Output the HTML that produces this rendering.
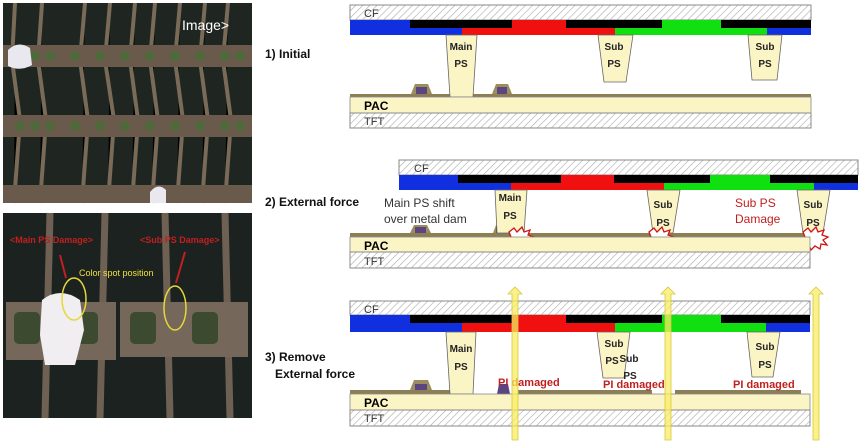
<!DOCTYPE html>
<html><head><meta charset="utf-8"><style>
html,body{margin:0;padding:0;background:#fff;}
svg{display:block;font-family:"Liberation Sans",sans-serif;}
</style></head><body>
<svg width="865" height="442" viewBox="0 0 865 442" xmlns="http://www.w3.org/2000/svg">
<defs>
<pattern id="h" width="5" height="5" patternUnits="userSpaceOnUse" patternTransform="rotate(45)">
<rect width="5" height="5" fill="#fff"/><line x1="0" y1="0" x2="0" y2="5" stroke="#aaa" stroke-width="1.2"/></pattern>
</defs>
<!-- photo 1 -->
<rect x="3" y="3" width="249" height="200" fill="#1f2622"/>
<g stroke="#7a6a58" stroke-width="4">
<path d="M15 3 L12 60 L20 120 L14 203"/><path d="M42 3 L38 60 L46 120 L40 203"/><path d="M85 3 L80 60 L88 120 L82 203"/><path d="M110 3 L105 60 L114 120 L108 203"/><path d="M135 3 L130 60 L138 120 L132 203"/><path d="M155 3 L150 60 L158 120 L152 203"/><path d="M180 3 L175 60 L183 120 L177 203"/><path d="M205 3 L200 60 L208 120 L202 203"/><path d="M228 3 L223 60 L231 120 L225 203"/>
</g>
<g fill="#6a5a4c"><rect x="3" y="45" width="249" height="22"/><rect x="3" y="115" width="249" height="22"/><rect x="3" y="185" width="249" height="18"/></g>
<g fill="#4f6a3a">
<circle cx="20" cy="56" r="5"/><circle cx="35" cy="56" r="5"/><circle cx="50" cy="56" r="5"/><circle cx="75" cy="56" r="5"/><circle cx="100" cy="56" r="5"/><circle cx="125" cy="56" r="5"/><circle cx="150" cy="56" r="5"/><circle cx="175" cy="56" r="5"/><circle cx="200" cy="56" r="5"/><circle cx="225" cy="56" r="5"/><circle cx="240" cy="56" r="5"/>
<circle cx="20" cy="126" r="5"/><circle cx="35" cy="126" r="5"/><circle cx="50" cy="126" r="5"/><circle cx="75" cy="126" r="5"/><circle cx="100" cy="126" r="5"/><circle cx="125" cy="126" r="5"/><circle cx="150" cy="126" r="5"/><circle cx="175" cy="126" r="5"/><circle cx="200" cy="126" r="5"/><circle cx="225" cy="126" r="5"/><circle cx="240" cy="126" r="5"/>
</g>
<path d="M8 50 Q18 40 30 48 L32 65 Q20 72 8 66Z" fill="#e8e8ee"/><path d="M150 192 Q158 182 166 190 L166 203 L150 203Z" fill="#e8e8ee"/>
<text x="182" y="30" fill="#fff" font-size="14">Image&gt;</text>
<!-- photo 2 -->
<rect x="3" y="213" width="249" height="205" fill="#1c221f"/>
<g stroke="#6e6052" stroke-width="7"><line x1="50" y1="213" x2="45" y2="418"/><line x1="105" y1="213" x2="100" y2="418"/><line x1="165" y1="213" x2="170" y2="418"/><line x1="225" y1="213" x2="230" y2="418"/></g>
<rect x="6" y="302" width="110" height="58" fill="#75675a"/><rect x="120" y="302" width="128" height="55" fill="#75675a"/>
<g fill="#3c4a30"><rect x="14" y="312" width="26" height="32" rx="5"/><rect x="72" y="312" width="26" height="32" rx="5"/><rect x="130" y="312" width="26" height="32" rx="5"/><rect x="192" y="312" width="26" height="32" rx="5"/></g>
<path d="M42 300 Q60 286 80 300 L84 330 L75 365 L45 365 L40 335 Z" fill="#f0eef0"/>
<ellipse cx="74" cy="299" rx="12" ry="21" fill="none" stroke="#e5d83a" stroke-width="1.5"/>
<ellipse cx="175" cy="308" rx="11" ry="22" fill="none" stroke="#e5d83a" stroke-width="1.5"/>
<text x="79" y="276" fill="#f0e040" font-size="9">Color spot position</text>
<text x="10" y="243" fill="#c02020" font-size="9" font-weight="bold">&lt;Main PS Damage&gt;</text>
<text x="140" y="243" fill="#c02020" font-size="9" font-weight="bold">&lt;Sub PS Damage&gt;</text>
<g stroke="#c02020" stroke-width="2"><line x1="60" y1="255" x2="66" y2="278"/><line x1="185" y1="252" x2="176" y2="283"/></g>
<!-- labels -->
<g font-weight="bold" font-size="12" fill="#111">
<text x="265" y="58">1) Initial</text>
<text x="265" y="206">2) External force</text>
<text x="265" y="361">3) Remove</text>
<text x="275" y="378">External force</text>
</g>

<!-- Diagram 1 -->
<rect x="350" y="5" width="461" height="15" fill="url(#h)" stroke="#888"/>
<text x="364" y="17" font-size="11" fill="#333">CF</text>
<rect x="350" y="20" width="60" height="8" fill="#1030e0"/><rect x="410" y="20" width="102" height="8" fill="#000"/><rect x="512" y="20" width="54" height="8" fill="#f01010"/><rect x="566" y="20" width="96" height="8" fill="#000"/><rect x="662" y="20" width="59" height="8" fill="#10e010"/><rect x="721" y="20" width="90" height="8" fill="#000"/>
<rect x="350" y="28" width="112" height="7" fill="#1030e0"/><rect x="462" y="28" width="153" height="7" fill="#f01010"/><rect x="615" y="28" width="152" height="7" fill="#10e010"/><rect x="767" y="28" width="44" height="7" fill="#1030e0"/>
<rect x="350" y="94" width="461" height="3" fill="#8d7f55"/>
<path d="M411 94 L415 84 L428 84 L432 94Z" fill="#9c8d5c"/><rect x="416" y="87" width="11" height="7" fill="#5a4580"/>
<path d="M492 94 L496 84 L508 84 L512 94Z" fill="#9c8d5c"/><rect x="497" y="87" width="10" height="7" fill="#5a4580"/>
<g fill="#fbf5c6" stroke="#666" stroke-width="0.8">
<path d="M446 35 L477 35 L473 97 L450 97Z"/><path d="M598 35 L633 35 L626 82 L604 82Z"/><path d="M748 35 L782 35 L777 80 L752 80Z"/>
</g>
<g font-size="10" font-weight="bold" fill="#222" text-anchor="middle"><text x="461" y="50">Main</text><text x="461" y="67">PS</text><text x="614" y="50">Sub</text><text x="614" y="67">PS</text><text x="765" y="50">Sub</text><text x="765" y="67">PS</text></g>
<rect x="350" y="97" width="461" height="16" fill="#fbf5c6" stroke="#888" stroke-width="0.8"/>
<text x="364" y="110" font-size="12" font-weight="bold">PAC</text>
<rect x="350" y="113" width="461" height="15" fill="url(#h)" stroke="#888"/>
<text x="364" y="125" font-size="11" fill="#333">TFT</text>

<!-- Diagram 2 -->
<rect x="399" y="160" width="459" height="15" fill="url(#h)" stroke="#888"/>
<text x="414" y="172" font-size="11" fill="#333">CF</text>
<rect x="399" y="175" width="59" height="8" fill="#1030e0"/><rect x="458" y="175" width="103" height="8" fill="#000"/><rect x="561" y="175" width="53" height="8" fill="#f01010"/><rect x="614" y="175" width="96" height="8" fill="#000"/><rect x="710" y="175" width="60" height="8" fill="#10e010"/><rect x="770" y="175" width="88" height="8" fill="#000"/>
<rect x="399" y="183" width="112" height="7" fill="#1030e0"/><rect x="511" y="183" width="153" height="7" fill="#f01010"/><rect x="664" y="183" width="150" height="7" fill="#10e010"/><rect x="814" y="183" width="44" height="7" fill="#1030e0"/>
<rect x="350" y="233" width="460" height="4" fill="#8d7f55"/>
<path d="M410 233 L414 225 L427 225 L431 233Z" fill="#9c8d5c"/><rect x="415" y="227" width="11" height="6" fill="#5a4580"/>
<path d="M493 233 L496 225 L503 225 L506 233Z" fill="#9c8d5c"/><rect x="496" y="227" width="9" height="6" fill="#5a4580"/>
<g fill="#fbf5c6" stroke="#666" stroke-width="0.8">
<path d="M495 190 L527 190 L524 233 L497 233Z"/><path d="M647 190 L680 190 L673 233 L653 233Z"/><path d="M797 190 L830 190 L823 233 L803 233Z"/>
</g>
<g font-size="10" font-weight="bold" fill="#222" text-anchor="middle"><text x="510" y="201">Main</text><text x="510" y="219">PS</text><text x="663" y="208">Sub</text><text x="663" y="226">PS</text><text x="813" y="208">Sub</text><text x="813" y="226">PS</text></g>
<g fill="#fff" stroke="#d01010" stroke-width="1.3">
<path d="M509 232 l5 -4 l3 4 l5 -5 l2 5 l6 -2 l-2 5 l6 2 l-5 3 l4 5 l-6 -1 l-1 5 l-5 -3 l-4 4 l-2 -5 l-6 2 l2 -5 l-5 -3 l5 -2 z"/>
<path d="M649 232 l5 -4 l3 4 l5 -5 l2 5 l6 -2 l-2 5 l6 2 l-5 3 l4 5 l-6 -1 l-1 5 l-5 -3 l-4 4 l-2 -5 l-6 2 l2 -5 l-5 -3 l5 -2 z"/>
<path d="M803 232 l5 -4 l3 4 l5 -5 l2 5 l6 -2 l-2 5 l6 2 l-5 3 l4 5 l-6 -1 l-1 5 l-5 -3 l-4 4 l-2 -5 l-6 2 l2 -5 l-5 -3 l5 -2 z"/>
</g>
<rect x="350" y="237" width="460" height="15" fill="#fbf5c6" stroke="#888" stroke-width="0.8"/>
<text x="364" y="250" font-size="12" font-weight="bold">PAC</text>
<rect x="350" y="252" width="460" height="16" fill="url(#h)" stroke="#888"/>
<text x="364" y="265" font-size="11" fill="#333">TFT</text>
<text x="384" y="207" font-size="12" fill="#333">Main PS shift</text>
<text x="384" y="223" font-size="12" fill="#333">over metal dam</text>
<text x="735" y="207" font-size="12" fill="#c02020">Sub PS</text>
<text x="735" y="223" font-size="12" fill="#c02020">Damage</text>

<!-- Diagram 3 -->
<rect x="350" y="301" width="460" height="14" fill="url(#h)" stroke="#888"/>
<text x="364" y="313" font-size="11" fill="#333">CF</text>
<rect x="350" y="315" width="60" height="8" fill="#1030e0"/><rect x="410" y="315" width="102" height="8" fill="#000"/><rect x="512" y="315" width="54" height="8" fill="#f01010"/><rect x="566" y="315" width="96" height="8" fill="#000"/><rect x="662" y="315" width="59" height="8" fill="#10e010"/><rect x="721" y="315" width="89" height="8" fill="#000"/>
<rect x="350" y="323" width="112" height="9" fill="#1030e0"/><rect x="462" y="323" width="153" height="9" fill="#f01010"/><rect x="615" y="323" width="151" height="9" fill="#10e010"/><rect x="766" y="323" width="44" height="9" fill="#1030e0"/>
<rect x="350" y="390" width="100" height="4" fill="#8d7f55"/><rect x="518" y="390" width="134" height="4" fill="#8d7f55"/><rect x="675" y="390" width="126" height="4" fill="#8d7f55"/>
<path d="M410 390 L414 380 L428 380 L432 390Z" fill="#9c8d5c"/><rect x="415" y="384" width="12" height="6" fill="#5a4580"/>
<path d="M497 394 L499 384 L508 384 L510 394Z" fill="#5a4580"/>
<g fill="#fbf5c6" stroke="#666" stroke-width="0.8">
<path d="M446 332 L476 332 L473 394 L450 394Z"/><path d="M597 332 L630 332 L624 378 L603 378Z"/><path d="M747 332 L780 332 L773 377 L752 377Z"/>
</g>
<g font-size="10" font-weight="bold" fill="#222" text-anchor="middle"><text x="461" y="352">Main</text><text x="461" y="370">PS</text><text x="614" y="347">Sub</text><text x="612" y="364">PS</text><text x="629" y="362">Sub</text><text x="630" y="379">PS</text><text x="765" y="350">Sub</text><text x="765" y="368">PS</text></g>
<g font-size="11" font-weight="bold" fill="#c02020"><text x="498" y="386">PI damaged</text><text x="603" y="388">PI damaged</text><text x="733" y="388">PI damaged</text></g>
<rect x="350" y="394" width="460" height="16" fill="#fbf5c6" stroke="#888" stroke-width="0.8"/>
<text x="364" y="407" font-size="12" font-weight="bold">PAC</text>
<rect x="350" y="410" width="460" height="16" fill="url(#h)" stroke="#888"/>
<text x="364" y="422" font-size="11" fill="#333">TFT</text>
<g fill="#f8ec60" fill-opacity="0.75" stroke="#d8c840" stroke-width="0.8">
<path d="M512 440 L512 294 L508 294 L515 287 L522 294 L518 294 L518 440Z"/>
<path d="M665 440 L665 294 L661 294 L668 287 L675 294 L671 294 L671 440Z"/>
<path d="M813 440 L813 294 L809 294 L816 287 L823 294 L819 294 L819 440Z"/>
</g>
</svg>
</body></html>
